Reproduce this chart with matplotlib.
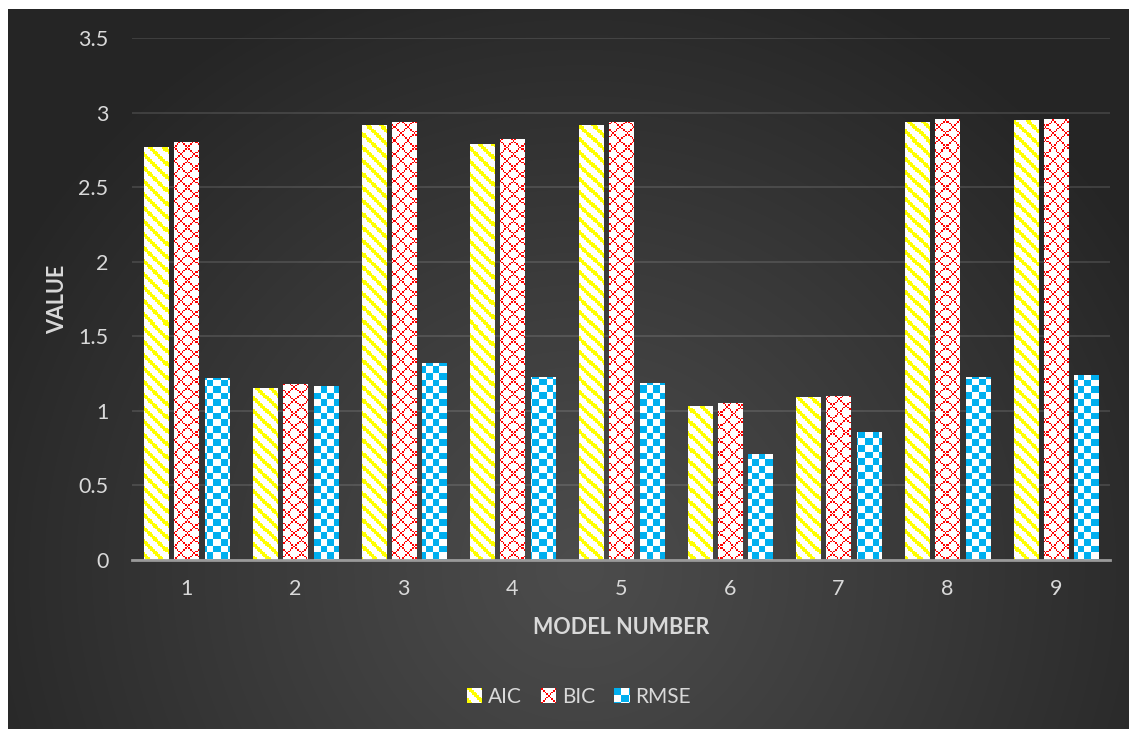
import numpy as np
import matplotlib
matplotlib.use("Agg")
import matplotlib.pyplot as plt
from matplotlib.patches import Patch

# ---- data -------------------------------------------------------------
models = [1, 2, 3, 4, 5, 6, 7, 8, 9]
aic = [2.77, 1.15, 2.92, 2.79, 2.92, 1.03, 1.09, 2.94, 2.95]
bic = [2.80, 1.18, 2.94, 2.82, 2.94, 1.05, 1.10, 2.96, 2.96]
rmse = [1.22, 1.17, 1.32, 1.23, 1.19, 0.71, 0.86, 1.23, 1.24]
series_names = ["AIC", "BIC", "RMSE"]
y_ticks = [0, 0.5, 1, 1.5, 2, 2.5, 3, 3.5]
y_tick_labels = ["0", "0.5", "1", "1.5", "2", "2.5", "3", "3.5"]

# ---- style --------------------------------------------------------------
plt.rcParams["font.family"] = ["Lato", "DejaVu Sans"]
TEXT = "#d9d9d9"
PATTERN_COLORS = {"AIC": (1.0, 1.0, 0.0), "BIC": (1.0, 0.0, 0.0), "RMSE": (0.0, 0.69, 0.94)}
CELL = 13.3 / 8.0  # size of one pattern cell in pixels (8x8 tiles)

W, H, DPI = 1129, 729, 100
fig = plt.figure(figsize=(W / DPI, H / DPI), dpi=DPI, facecolor="white")


def pattern_image(kind, x0, y0, w, h):
    """RGB pixel pattern, w x h pixels, anchored at figure pixel (x0, y0 from top)."""
    xs = np.arange(w) + x0
    ys = np.arange(h) + y0
    u = (np.floor(xs / CELL).astype(int) % 8)[None, :]
    v = (np.floor(ys / CELL).astype(int) % 8)[:, None]
    if kind == "AIC":
        mask = ((u - v) % 8) < 3
    elif kind == "BIC":
        mask = (((u + v) % 8) == 0) | (((u - v) % 8) == 0)
    else:
        mask = ((u // 4 + v // 4) % 2) == 0
    img = np.ones((h, w, 3))
    img[mask] = PATTERN_COLORS[kind]
    return img


# ---- dark radial-gradient panel ---------------------------------------
px0, py0 = 8, 9
bw, bh = W - px0, H - py0
bg_ax = fig.add_axes([px0 / W, 0, bw / W, bh / H], zorder=0)
yy, xx = np.mgrid[0:bh, 0:bw]
r = np.sqrt(((xx - 572) / 660.0) ** 2 + ((yy - 560) / 640.0) ** 2)
t = np.clip(r, 0, 1) ** 1.1
inner, outer = 0x4c / 255, 0x25 / 255
val = inner + (outer - inner) * t
bg_ax.imshow(np.dstack([val, val, val]), aspect="auto", interpolation="bilinear")
bg_ax.axis("off")

# ---- main axes ----------------------------------------------------------
ax_l, ax_r, ax_t, ax_b = 132, 1110, 38, 560
ax = fig.add_axes([ax_l / W, (H - ax_b) / H, (ax_r - ax_l) / W, (ax_b - ax_t) / H], zorder=1)
ax.patch.set_alpha(0)
ax.set_xlim(0.5, 9.5)
ax.set_ylim(0, 3.5)
ax.set_autoscale_on(False)

x = np.arange(len(models)) + 1
width = 0.222
offsets = [-0.276, 0.0, 0.282]
series = {"AIC": aic, "BIC": bic, "RMSE": rmse}

aw, ah = ax_r - ax_l, ax_b - ax_t
for name, off in zip(series_names, offsets):
    bars = ax.bar(x + off, series[name], width=width, facecolor="white",
                  edgecolor="#a6a6a6", linewidth=0.6, zorder=3)
    img = pattern_image(name, ax_l, ax_t, aw, ah)
    for b in bars:
        im = ax.imshow(img, extent=(0.5, 9.5, 0, 3.5), origin="upper",
                       aspect="auto", interpolation="nearest", zorder=3.5)
        im.set_clip_path(b)

ax.set_yticks(y_ticks)
ax.set_yticklabels(y_tick_labels)
ax.set_xticks(x)
ax.set_xticklabels([str(m) for m in models])
ax.tick_params(axis="both", length=0, labelsize=15.5, colors=TEXT)
ax.tick_params(axis="y", pad=17)
ax.tick_params(axis="x", pad=14)

ax.grid(axis="y", color="white", alpha=0.13, linewidth=1.3, zorder=0)
ax.set_axisbelow(True)
for s in ["top", "right", "left"]:
    ax.spines[s].set_visible(False)
ax.spines["bottom"].set_color("#9a9a9a")
ax.spines["bottom"].set_linewidth(2.0)
ax.spines["bottom"].set_zorder(4)

ax.set_ylabel("VALUE", fontsize=15.5, fontweight="bold", color=TEXT, labelpad=7)
ax.set_xlabel("MODEL NUMBER", fontsize=15.5, fontweight="bold", color=TEXT, labelpad=13)

# ---- legend ---------------------------------------------------------------
handles = [Patch(facecolor="none", edgecolor="none", label=n) for n in series_names]
leg = fig.legend(handles=handles, loc="center", bbox_to_anchor=(579 / W, 1 - 697 / H),
                 ncol=3, frameon=False, fontsize=15, labelcolor=TEXT,
                 handlelength=0.72, handleheight=0.72, handletextpad=0.3,
                 columnspacing=0.9)

fig.canvas.draw()
for name, patch in zip(series_names, leg.get_patches()):
    bb = patch.get_window_extent()
    pw, ph = max(int(round(bb.width)), 1), max(int(round(bb.height)), 1)
    sw = fig.add_axes([bb.x0 / W, bb.y0 / H, bb.width / W, bb.height / H], zorder=6)
    sw.imshow(pattern_image(name, 0, 0, pw, ph), aspect="auto", interpolation="nearest")
    sw.axis("off")

fig.savefig("out.png", dpi=DPI)
